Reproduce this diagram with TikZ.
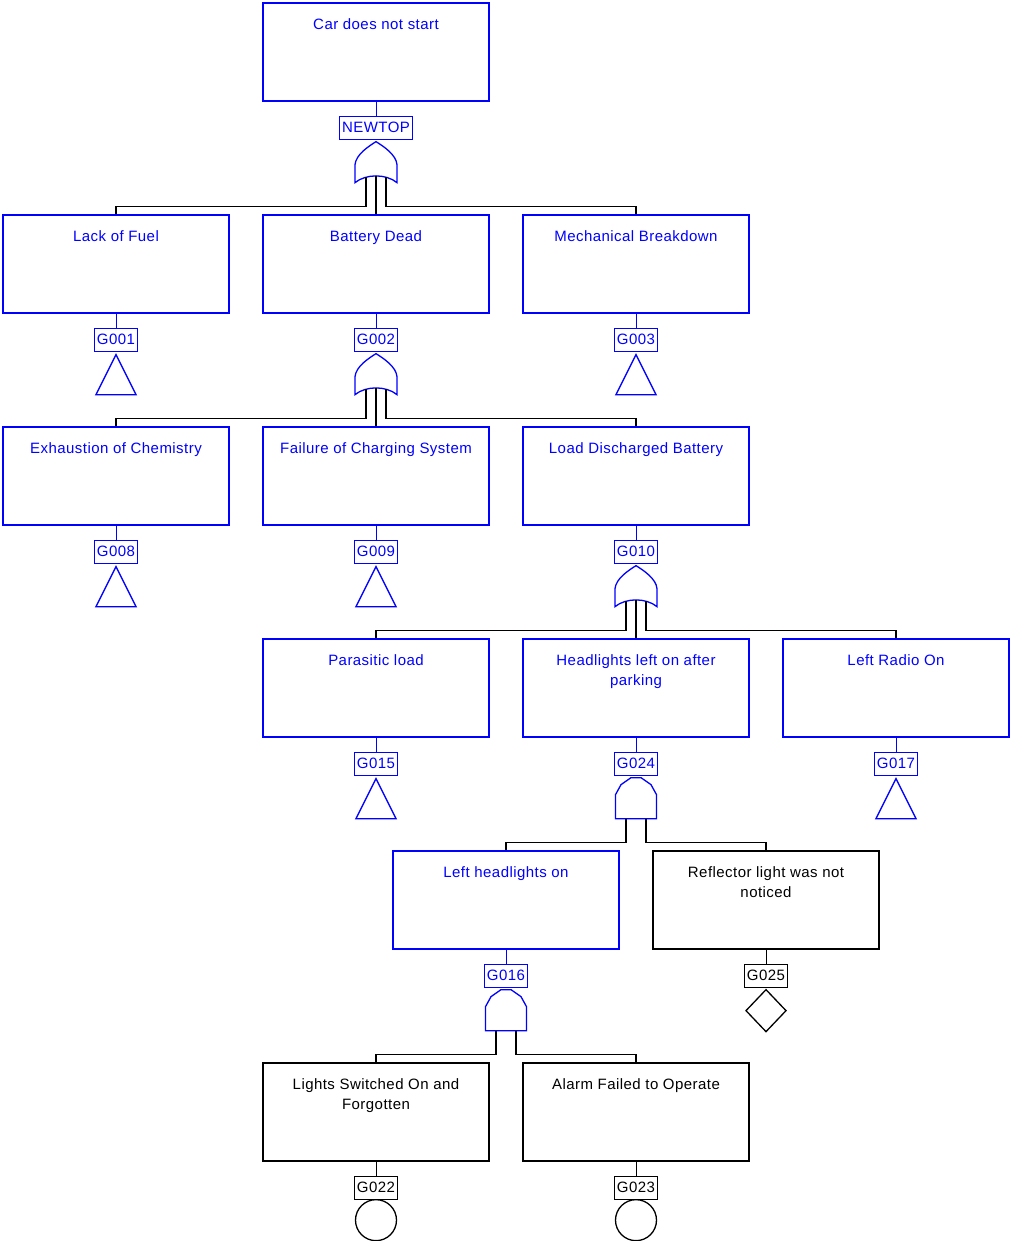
\documentclass[tikz,border=0pt]{standalone}
\usepackage{fontspec}
\setmainfont{Liberation Sans}
\usetikzlibrary{positioning}

\definecolor{ftblue}{RGB}{0,0,255}
\newcommand{\ftfont}{\fontsize{15}{20}\selectfont\addfontfeatures{LetterSpace=3}}

\tikzset{
    % gate symbols, drawn from their top point downwards
    orgate/.pic={
        \draw (0,0) .. controls (8,-5) and (20,-13) .. (21,-23) -- (21,-41)
            .. controls (10,-32) and (-10,-32) .. (-21,-41) -- (-21,-23)
            .. controls (-20,-13) and (-8,-5) .. (0,0) -- cycle;
        \coordinate (-in1) at (-10,-35.5);
        \coordinate (-in2) at (0,-34);
        \coordinate (-in3) at (10,-35.5);
    },
    andgate/.pic={
        \draw (-20.5,-41) -- (-20.5,-17) -- (-15,-7) -- (-5,0) -- (5,0)
            -- (15,-7) -- (20.5,-17) -- (20.5,-41) -- cycle;
        \coordinate (-in1) at (-10,-41);
        \coordinate (-in2) at (10,-41);
    },
    transfer/.pic={
        \draw (0,0) -- (20,-40) -- (-20,-40) -- cycle;
    },
    undeveloped/.pic={
        \draw (0,0) -- (20,-21) -- (0,-42) -- (-20,-21) -- cycle;
    },
    basicev/.pic={
        \draw (0,-20.5) circle[radius=20.5];
    }
}

\begin{document}
\begin{tikzpicture}[
    x=1pt, y=1pt,
    font=\ftfont,
    event/.style={
        draw=#1,
        line width=1.3pt,
        minimum width=226pt,
        minimum height=98pt,
        inner sep=0pt
    },
    event/.default=ftblue,
    evtext/.style={
        text=#1,
        anchor=north,
        yshift=-16pt,
        align=center,
        inner sep=0pt
    },
    evtext/.default=ftblue,
    idbox/.style={
        draw=#1,
        text=#1,
        line width=1pt,
        inner xsep=2.5pt,
        inner ysep=0pt,
        minimum height=23pt
    },
    idbox/.default=ftblue,
    stem/.style={draw=#1, line width=1pt},
    stem/.default=ftblue,
    gate/.style={ftblue, line width=1.3pt},
    wire/.style={draw=black, line width=1.6pt}
]
\useasboundingbox (0,0) rectangle (1009,-1241);

% Top event
\node[event, label={[evtext]north:Car does not start}] (top) at (376,-52) {};
\node[idbox, below=14pt of top] (idTop) {NEWTOP};
\draw[stem] (top.south) -- (idTop.north);
\pic[gate] (gTop) at ([yshift=-2pt]idTop.south) {orgate};

% Second level
\node[event, label={[evtext]north:Lack of Fuel}] (fuel) at (116,-264) {};
\node[event, label={[evtext]north:Battery Dead}] (battery) at (376,-264) {};
\node[event, label={[evtext]north:Mechanical Breakdown}] (mech) at (636,-264) {};
\node[idbox, below=14pt of fuel] (idG001) {G001};
\node[idbox, below=14pt of battery] (idG002) {G002};
\node[idbox, below=14pt of mech] (idG003) {G003};
\draw[stem] (fuel.south) -- (idG001.north);
\draw[stem] (battery.south) -- (idG002.north);
\draw[stem] (mech.south) -- (idG003.north);
\pic[gate] (gG001) at ([yshift=-3pt]idG001.south) {transfer};
\pic[gate] (gG002) at ([yshift=-2pt]idG002.south) {orgate};
\pic[gate] (gG003) at ([yshift=-3pt]idG003.south) {transfer};

% Third level
\node[event, label={[evtext]north:Exhaustion of Chemistry}] (chem) at (116,-476) {};
\node[event, label={[evtext]north:Failure of Charging System}] (charging) at (376,-476) {};
\node[event, label={[evtext]north:Load Discharged Battery}] (load) at (636,-476) {};
\node[idbox, below=14pt of chem] (idG008) {G008};
\node[idbox, below=14pt of charging] (idG009) {G009};
\node[idbox, below=14pt of load] (idG010) {G010};
\draw[stem] (chem.south) -- (idG008.north);
\draw[stem] (charging.south) -- (idG009.north);
\draw[stem] (load.south) -- (idG010.north);
\pic[gate] (gG008) at ([yshift=-3pt]idG008.south) {transfer};
\pic[gate] (gG009) at ([yshift=-3pt]idG009.south) {transfer};
\pic[gate] (gG010) at ([yshift=-2pt]idG010.south) {orgate};

% Fourth level
\node[event, label={[evtext]north:Parasitic load}] (parasitic) at (376,-688) {};
\node[event, label={[evtext]north:Headlights left on after\\parking}] (headlights) at (636,-688) {};
\node[event, label={[evtext]north:Left Radio On}] (radio) at (896,-688) {};
\node[idbox, below=14pt of parasitic] (idG015) {G015};
\node[idbox, below=14pt of headlights] (idG024) {G024};
\node[idbox, below=14pt of radio] (idG017) {G017};
\draw[stem] (parasitic.south) -- (idG015.north);
\draw[stem] (headlights.south) -- (idG024.north);
\draw[stem] (radio.south) -- (idG017.north);
\pic[gate] (gG015) at ([yshift=-3pt]idG015.south) {transfer};
\pic[gate] (gG024) at ([yshift=-2pt]idG024.south) {andgate};
\pic[gate] (gG017) at ([yshift=-3pt]idG017.south) {transfer};

% Fifth level
\node[event, label={[evtext]north:Left headlights on}] (lefton) at (506,-900) {};
\node[event=black, label={[evtext=black]north:Reflector light was not\\noticed}] (reflector) at (766,-900) {};
\node[idbox, below=14pt of lefton] (idG016) {G016};
\node[idbox=black, below=14pt of reflector] (idG025) {G025};
\draw[stem] (lefton.south) -- (idG016.north);
\draw[stem=black] (reflector.south) -- (idG025.north);
\pic[gate] (gG016) at ([yshift=-2pt]idG016.south) {andgate};
\pic[gate, black] (gG025) at ([yshift=-2pt]idG025.south) {undeveloped};

% Basic events
\node[event=black, label={[evtext=black]north:Lights Switched On and\\Forgotten}] (switched) at (376,-1112) {};
\node[event=black, label={[evtext=black]north:Alarm Failed to Operate}] (alarm) at (636,-1112) {};
\node[idbox=black, below=14pt of switched] (idG022) {G022};
\node[idbox=black, below=14pt of alarm] (idG023) {G023};
\draw[stem=black] (switched.south) -- (idG022.north);
\draw[stem=black] (alarm.south) -- (idG023.north);
\pic[gate, black] (gG022) at (idG022.south) {basicev};
\pic[gate, black] (gG023) at (idG023.south) {basicev};

% Gate inputs
\draw[wire] (gTop-in1) |- ([yshift=8pt]fuel.north) -- (fuel.north);
\draw[wire] (gTop-in2) -- (battery.north);
\draw[wire] (gTop-in3) |- ([yshift=8pt]mech.north) -- (mech.north);
\draw[wire] (gG002-in1) |- ([yshift=8pt]chem.north) -- (chem.north);
\draw[wire] (gG002-in2) -- (charging.north);
\draw[wire] (gG002-in3) |- ([yshift=8pt]load.north) -- (load.north);
\draw[wire] (gG010-in1) |- ([yshift=8pt]parasitic.north) -- (parasitic.north);
\draw[wire] (gG010-in2) -- (headlights.north);
\draw[wire] (gG010-in3) |- ([yshift=8pt]radio.north) -- (radio.north);
\draw[wire] (gG024-in1) |- ([yshift=8pt]lefton.north) -- (lefton.north);
\draw[wire] (gG024-in2) |- ([yshift=8pt]reflector.north) -- (reflector.north);
\draw[wire] (gG016-in1) |- ([yshift=8pt]switched.north) -- (switched.north);
\draw[wire] (gG016-in2) |- ([yshift=8pt]alarm.north) -- (alarm.north);

\end{tikzpicture}
\end{document}
